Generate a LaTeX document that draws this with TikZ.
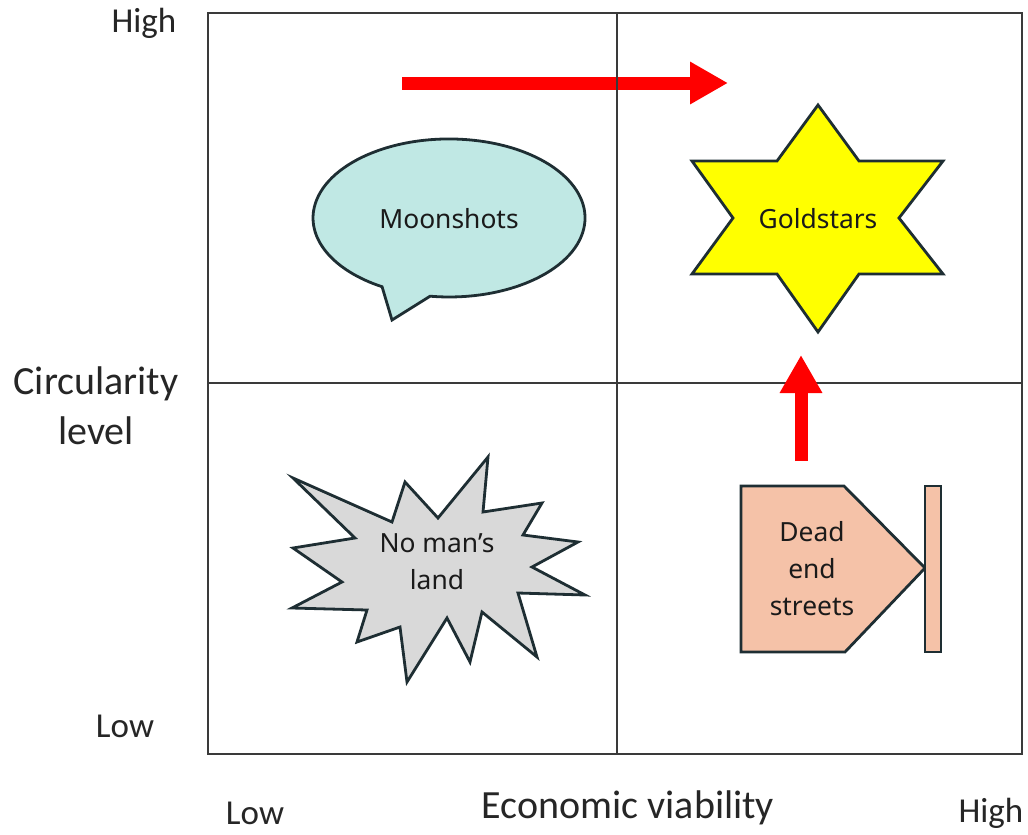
\documentclass[tikz,border=0pt]{standalone}
\usepackage{fontspec}
\setmainfont{Carlito}
\newfontfamily\lblfont{Noto Sans}
\usetikzlibrary{arrows.meta}
\definecolor{gridcol}{HTML}{3A3A3A}
\definecolor{shapeline}{HTML}{1E2E33}
\definecolor{moonfill}{HTML}{C0E8E4}
\definecolor{starfill}{HTML}{FFFF00}
\definecolor{nomanfill}{HTML}{D9D9D9}
\definecolor{deadfill}{HTML}{F5C2A8}
\definecolor{txtcol}{HTML}{262626}
\definecolor{lbltxt}{HTML}{1A1A1A}
\definecolor{arrowred}{HTML}{FF0000}
\tikzset{
  gridline/.style={draw=gridcol, line width=1.1pt},
  shapebox/.style={draw=shapeline, line width=1.4pt, line join=miter},
  axislabel/.style={font=\fontsize{17.5}{21}\selectfont, text=txtcol, inner sep=0pt},
  axistitle/.style={font=\fontsize{20}{25}\selectfont, text=txtcol, inner sep=0pt, align=center},
  shapelabel/.style={font=\lblfont\fontsize{13.2}{18.5}\selectfont, text=lbltxt, inner sep=0pt, align=center},
  redarrow/.style={draw=arrowred, line width=6.5pt, -{Triangle[length=19pt, width=20pt]}}
}
\begin{document}
\begin{tikzpicture}[x=0.5pt, y=-0.5pt]
\useasboundingbox (0,0) rectangle (1028,835);
\fill[white] (0,0) rectangle (1028,835);

% horizontal red arrow (under grid)
\coordinate (hstart) at (402,83);
\coordinate (hend) at (728,83);
\draw[redarrow] (hstart) -- (hend);

% grid
\draw[gridline] (208,13) rectangle (1022,754);
\draw[gridline] (617,13) -- (617,754);
\draw[gridline] (208,383) -- (1022,383);

% up red arrow (over grid)
\coordinate (vstart) at (801,461);
\coordinate (vend) at (801,355);
\draw[redarrow] (vstart) -- (vend);

% Moonshots speech bubble
\draw[shapebox, fill=moonfill]
  (430.1,296.2) arc[start angle=98, end angle=-240.5, x radius=136, y radius=79]
  -- (392,320) -- cycle;
\node[shapelabel] (moon) at (449,219) {Moonshots};

% Goldstars star
\draw[shapebox, fill=starfill]
  (818,105) -- (859,161) -- (943,161) -- (899,218) -- (943,274) -- (859,274)
  -- (818,332) -- (777,274) -- (692,274) -- (733,218) -- (692,161) -- (777,161) -- cycle;
\node[shapelabel] (gold) at (818,219) {Goldstars};

% No man's land explosion
\draw[shapebox, fill=nomanfill]
  (293,478) -- (392,522) -- (405,482) -- (438,518) -- (488,457) -- (483,512)
  -- (542,503) -- (523,535) -- (578,542) -- (532,567) -- (585,595) -- (518,593)
  -- (537,657) -- (482,612) -- (470,662) -- (447,618) -- (407,682) -- (400,627)
  -- (357,642) -- (367,610) -- (292,608) -- (342,582) -- (293,548) -- (355,538) -- cycle;
\node[shapelabel] (noman) at (437,562) {No man’s\\land};

% Dead end streets
\draw[shapebox, fill=deadfill]
  (741,486) -- (844,486) -- (925,568) -- (845,652) -- (741,652) -- cycle;
\draw[shapebox, fill=deadfill] (925,486) rectangle (941,652);
\node[shapelabel] (dead) at (812,569) {Dead\\end\\streets};

% axis labels
\node[axislabel] (yhigh) at (144,23) {High};
\node[axislabel] (ylow) at (125,726) {Low};
\node[axistitle] (ytitle) at (96,406) {Circularity\\level};
\node[axislabel] (xlow) at (255,813) {Low};
\node[axistitle] (xtitle) at (628,808) {Economic viability};
\node[axislabel] (xhigh) at (991,813) {High};
\end{tikzpicture}
\end{document}
